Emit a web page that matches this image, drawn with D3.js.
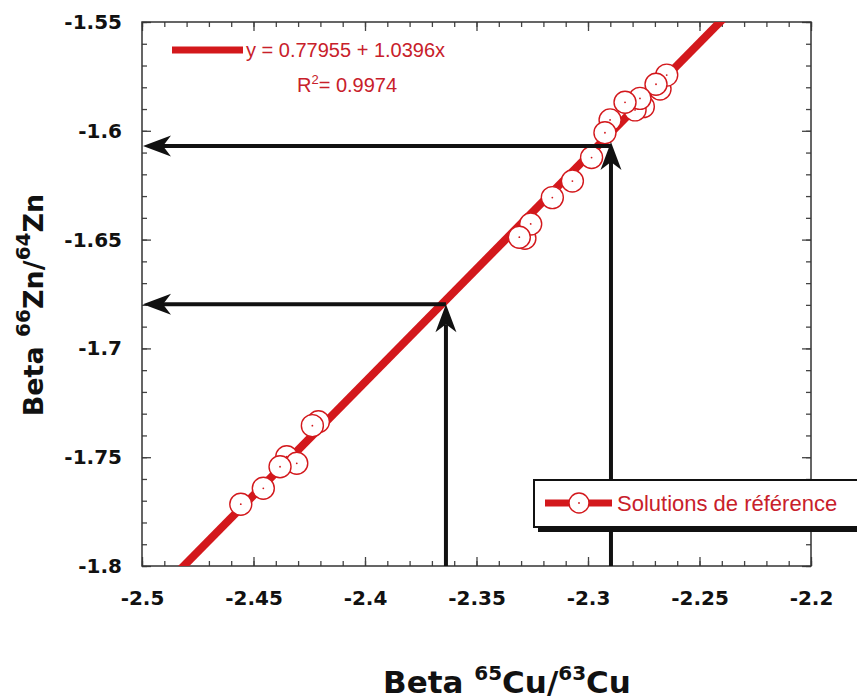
<!DOCTYPE html>
<html><head><meta charset="utf-8">
<script src="https://cdn.jsdelivr.net/npm/d3@7"></script>
<style>html,body{margin:0;padding:0;background:#fff;}svg{display:block;}</style>
</head><body>
<svg id="chart" width="857" height="700"></svg>
<script>
// ---- data ----
const betaCu = [-2.2677,-2.2752,-2.2789,-2.3283,-2.4209,-2.4351,-2.4306,
  -2.2647,-2.2695,-2.2767,-2.2834,-2.2901,-2.2924,-2.2984,-2.3070,-2.3160,-2.3257,-2.3308,-2.4236,-2.4381,-2.4456,-2.4557];
const betaZn = [-1.5808,-1.5889,-1.5904,-1.6494,-1.7337,-1.7498,-1.7528,
  -1.5744,-1.5786,-1.5851,-1.5869,-1.5950,-1.6009,-1.6123,-1.6231,-1.6307,-1.6428,-1.6489,-1.7355,-1.7544,-1.7643,-1.7716];
const fitIntercept = 0.77955, fitSlope = 1.0396;
const arrowX = [-2.3637, -2.2897];      // vertical arrows (Cu value)
const arrowTipY = [-1.6797, -1.6052];   // vertical arrow tips
const arrowHY = [-1.6797, -1.6070];     // horizontal arrows (Zn value)
const xTicks = [-2.5,-2.45,-2.4,-2.35,-2.3,-2.25,-2.2];
const xTickLabels = ["-2.5","-2.45","-2.4","-2.35","-2.3","-2.25","-2.2"];
const yTicks = [-1.8,-1.75,-1.7,-1.65,-1.6,-1.55];
const yTickLabels = ["-1.8","-1.75","-1.7","-1.65","-1.6","-1.55"];
const eqText = "y = 0.77955 + 1.0396x";
const r2Value = "0.9974";
const legendLabel = "Solutions de référence";

// ---- layout ----
const L = 142, R = 811, T = 22, B = 566;
const RED = "#d3181c", TXT_RED = "#c8202a", INK = "#111";
const svg = d3.select("#chart");
const x = d3.scaleLinear().domain([-2.5,-2.2]).range([L,R]);
const y = d3.scaleLinear().domain([-1.8,-1.55]).range([B,T]);

svg.append("defs").append("clipPath").attr("id","plotclip")
  .append("rect").attr("x",L).attr("y",T).attr("width",R-L).attr("height",B-T);

const minorX = d3.range(0,31).map(i => +(-2.5 + i*0.01).toFixed(2));
const minorY = d3.range(0,26).map(i => +(-1.8 + i*0.01).toFixed(2));

function styleAxis(g){ g.select(".domain").remove(); g.selectAll(".tick line").attr("stroke","#444").attr("stroke-width",1.3); }

// minor ticks
svg.append("g").attr("transform",`translate(0,${B})`).call(d3.axisBottom(x).tickValues(minorX).tickSize(-5).tickFormat("")).call(styleAxis);
svg.append("g").attr("transform",`translate(0,${T})`).call(d3.axisTop(x).tickValues(minorX).tickSize(-5).tickFormat("")).call(styleAxis);
svg.append("g").attr("transform",`translate(${L},0)`).call(d3.axisLeft(y).tickValues(minorY).tickSize(-5).tickFormat("")).call(styleAxis);
svg.append("g").attr("transform",`translate(${R},0)`).call(d3.axisRight(y).tickValues(minorY).tickSize(-5).tickFormat("")).call(styleAxis);
// major ticks
const xa = svg.append("g").attr("transform",`translate(0,${B})`)
  .call(d3.axisBottom(x).tickValues(xTicks).tickSize(-9).tickPadding(25).tickFormat((d,i)=>xTickLabels[i])).call(styleAxis);
svg.append("g").attr("transform",`translate(0,${T})`).call(d3.axisTop(x).tickValues(xTicks).tickSize(-9).tickFormat("")).call(styleAxis);
const ya = svg.append("g").attr("transform",`translate(${L},0)`)
  .call(d3.axisLeft(y).tickValues(yTicks).tickSize(-9).tickPadding(20).tickFormat((d,i)=>yTickLabels[i])).call(styleAxis);
svg.append("g").attr("transform",`translate(${R},0)`).call(d3.axisRight(y).tickValues(yTicks).tickSize(-9).tickFormat("")).call(styleAxis);
[xa, ya].forEach(g => g.selectAll("text").attr("font-family","DejaVu Sans, sans-serif").attr("font-weight","bold").attr("font-size",20).attr("fill","#111"));

// frame
svg.append("rect").attr("x",L).attr("y",T).attr("width",R-L).attr("height",B-T)
  .attr("fill","none").attr("stroke","#333").attr("stroke-width",1.5);

// regression line
const fitPts = x.domain().map(v => [v, fitIntercept + fitSlope*v]);
svg.append("path").attr("clip-path","url(#plotclip)")
  .attr("d", d3.line().x(d=>x(d[0])).y(d=>y(d[1]))(fitPts))
  .attr("stroke",RED).attr("stroke-width",8).attr("fill","none");

// points
const pts = svg.append("g");
betaCu.forEach((cu,i) => {
  pts.append("circle").attr("cx",x(cu)).attr("cy",y(betaZn[i])).attr("r",11)
    .attr("fill","#fff").attr("stroke",RED).attr("stroke-width",1.4);
  pts.append("circle").attr("cx",x(cu)).attr("cy",y(betaZn[i])).attr("r",0.9).attr("fill",RED);
});

// arrows
const head = "M0,0 L-28,-10.5 L-20,0 L-28,10.5 Z";
const arr = svg.append("g");
arrowX.forEach((ax,i) => {
  const px = x(ax), tipY = y(arrowTipY[i]), hy = y(arrowHY[i]);
  arr.append("line").attr("x1",px).attr("x2",px).attr("y1",B).attr("y2",tipY+20)
    .attr("stroke",INK).attr("stroke-width",4);
  arr.append("path").attr("d",head).attr("fill",INK)
    .attr("transform",`translate(${px},${tipY}) rotate(-90)`);
  arr.append("line").attr("x1",px).attr("x2",x(-2.5)+20).attr("y1",hy).attr("y2",hy)
    .attr("stroke",INK).attr("stroke-width",4);
  arr.append("path").attr("d",head).attr("fill",INK)
    .attr("transform",`translate(${x(-2.5)+1},${hy}) rotate(180)`);
});

// equation legend
svg.append("line").attr("x1",172).attr("x2",243).attr("y1",50).attr("y2",50)
  .attr("stroke",RED).attr("stroke-width",7);
svg.append("text").attr("x",246).attr("y",57).attr("font-family","Liberation Sans, Arial, sans-serif")
  .attr("font-size",20).attr("fill",TXT_RED).text(eqText);
const r2 = svg.append("text").attr("x",297).attr("y",92).attr("font-family","Liberation Sans, Arial, sans-serif")
  .attr("font-size",20).attr("fill",TXT_RED);
r2.append("tspan").text("R");
r2.append("tspan").attr("font-size",13).attr("dy",-8).text("2");
r2.append("tspan").attr("dy",8).text("= " + r2Value);

// series legend box
const lg = svg.append("g");
lg.append("rect").attr("x",538).attr("y",485).attr("width",340).attr("height",47).attr("fill",INK);
lg.append("rect").attr("x",534).attr("y",480).attr("width",340).attr("height",47)
  .attr("fill","#fff").attr("stroke",INK).attr("stroke-width",2);
lg.append("line").attr("x1",545).attr("x2",612).attr("y1",503).attr("y2",503).attr("stroke",RED).attr("stroke-width",7);
lg.append("circle").attr("cx",579).attr("cy",503).attr("r",10).attr("fill","#fff").attr("stroke",RED).attr("stroke-width",1.4);
lg.append("circle").attr("cx",579).attr("cy",503).attr("r",0.9).attr("fill",RED);
lg.append("text").attr("x",617).attr("y",511).attr("font-family","Liberation Sans, Arial, sans-serif")
  .attr("font-size",22).attr("fill",TXT_RED).text(legendLabel);

// axis titles
function title(sel, parts){
  parts.forEach(p => {
    if (p.sup) sel.append("tspan").attr("font-size",20).attr("dy",-13).text(p.t);
    else sel.append("tspan").attr("dy",p.after ? 13 : 0).text(p.t);
  });
}
const xt = svg.append("text").attr("x",507).attr("y",693).attr("text-anchor","middle")
  .attr("font-family","DejaVu Sans, sans-serif").attr("font-weight","bold").attr("font-size",31).attr("fill","#111");
title(xt, [{t:"Beta "},{t:"65",sup:true},{t:"Cu/",after:true},{t:"63",sup:true},{t:"Cu",after:true}]);
const yt = svg.append("text").attr("transform","translate(43,305) rotate(-90)").attr("text-anchor","middle")
  .attr("font-family","DejaVu Sans, sans-serif").attr("font-weight","bold").attr("font-size",27).attr("fill","#111");
title(yt, [{t:"Beta "},{t:"66",sup:true},{t:"Zn/",after:true},{t:"64",sup:true},{t:"Zn",after:true}]);
yt.selectAll("tspan").filter((d,i)=>i%2===1 || i===0).each(function(){});
</script>
</body></html>
